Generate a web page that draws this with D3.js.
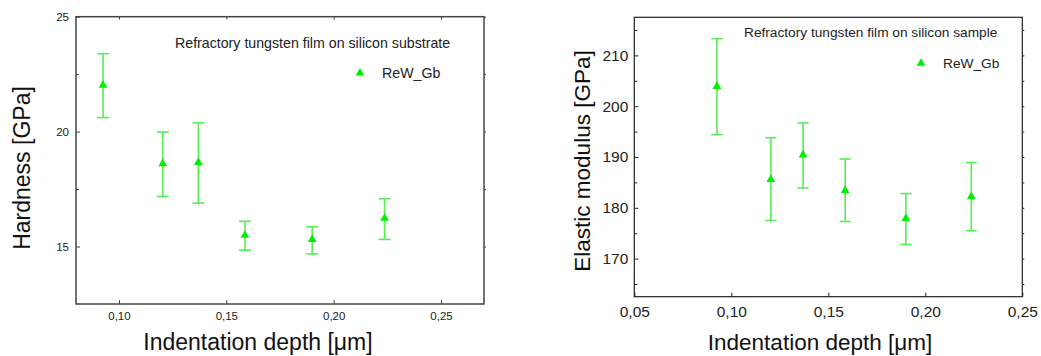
<!DOCTYPE html>
<html>
<head>
<meta charset="utf-8">
<script src="https://cdn.jsdelivr.net/npm/d3@7"></script>
<style>
  body { margin: 0; background: #fff; }
  svg { font-family: "Liberation Sans", Arial, Helvetica, sans-serif; }
  .axis path { display: none; }
</style>
</head>
<body>
<div id="chart"></div>
<script>
// indentation depth (um), shared by both panels
const depth = [0.0926, 0.1204, 0.1370, 0.1587, 0.1900, 0.2237];

// hardness panel
const hardness = [22.02, 18.61, 18.66, 15.49, 15.31, 16.23];
const hardnessHi = [23.39, 19.98, 20.38, 16.10, 15.86, 17.08];
const hardnessLo = [20.61, 17.18, 16.89, 14.84, 14.68, 15.31];
const hardnessTicks = [15, 20, 25];
const hardnessMinor = [17.5, 22.5];
const hardnessXTicks = [0.10, 0.15, 0.20, 0.25];

// elastic modulus panel
const modulus = [203.9, 185.6, 190.4, 183.4, 177.9, 182.2];
const modulusHi = [213.3, 193.8, 196.7, 189.6, 182.8, 188.9];
const modulusLo = [194.4, 177.5, 183.9, 177.3, 172.8, 175.5];
const modulusTicks = [170, 180, 190, 200, 210];
const modulusMinor = [165, 175, 185, 195, 205, 215];
const modulusXTicks = [0.05, 0.10, 0.15, 0.20, 0.25];

const seriesName = "ReW_Gb";

const svg = d3.select("#chart").append("svg")
  .attr("width", 1041)
  .attr("height", 356);

const commaFmt = d => d3.format(".2f")(d).replace(".", ",");

function drawPanel(cfg) {
  const x = d3.scaleLinear().domain(cfg.xDomain).range([cfg.left, cfg.right]);
  const y = d3.scaleLinear().domain(cfg.yDomain).range([cfg.bottom, cfg.top]);

  const g = svg.append("g");

  // x axis (ticks point inward)
  g.append("g")
    .attr("class", "axis")
    .attr("transform", `translate(0,${cfg.bottom})`)
    .call(d3.axisBottom(x).tickValues(cfg.xTicks).tickFormat(commaFmt)
      .tickSizeInner(-4).tickSizeOuter(0).tickPadding(cfg.xPad))
    .call(a => a.selectAll("line").attr("stroke", cfg.frameColor))
    .call(a => a.selectAll("text").attr("font-size", cfg.tickFont).attr("fill", "#222"));

  // top ticks
  g.append("g")
    .attr("class", "axis")
    .attr("transform", `translate(0,${cfg.top})`)
    .call(d3.axisTop(x).tickValues(cfg.topTicks ? cfg.xTicks : []).tickFormat("")
      .tickSizeInner(-3).tickSizeOuter(0))
    .call(a => a.selectAll("line").attr("stroke", cfg.frameColor));

  // y axis, major + minor
  g.append("g")
    .attr("class", "axis")
    .attr("transform", `translate(${cfg.left},0)`)
    .call(d3.axisLeft(y).tickValues(cfg.yTicks).tickFormat(d3.format("d"))
      .tickSizeInner(-4).tickSizeOuter(0).tickPadding(cfg.yPad))
    .call(a => a.selectAll("line").attr("stroke", cfg.frameColor))
    .call(a => a.selectAll("text").attr("font-size", cfg.tickFont).attr("fill", "#222"));

  g.append("g")
    .attr("class", "axis")
    .attr("transform", `translate(${cfg.left},0)`)
    .call(d3.axisLeft(y).tickValues(cfg.yMinor).tickFormat("")
      .tickSizeInner(-3).tickSizeOuter(0))
    .call(a => a.selectAll("line").attr("stroke", cfg.frameColor));

  // right side ticks
  g.append("g")
    .attr("class", "axis")
    .attr("transform", `translate(${cfg.right},0)`)
    .call(d3.axisRight(y).tickValues(cfg.yTicks.concat(cfg.yMinor)).tickFormat("")
      .tickSizeInner(2).tickSizeOuter(0))
    .call(a => a.selectAll("line").attr("stroke", cfg.frameColor));

  // frame
  g.append("rect")
    .attr("x", cfg.left)
    .attr("y", cfg.top)
    .attr("width", cfg.right - cfg.left)
    .attr("height", cfg.bottom - cfg.top)
    .attr("fill", "none")
    .attr("stroke", cfg.frameColor)
    .attr("stroke-width", cfg.frameWidth);

  const pts = depth.map((d, i) => ({ x: d, v: cfg.values[i], hi: cfg.hi[i], lo: cfg.lo[i] }));

  // error bars
  const bars = g.append("g")
    .attr("stroke", "#55ee55")
    .attr("stroke-width", 1.6);

  bars.selectAll(".stem")
    .data(pts)
    .join("line")
    .attr("x1", d => x(d.x)).attr("x2", d => x(d.x))
    .attr("y1", d => y(d.hi)).attr("y2", d => y(d.lo));

  bars.selectAll(".capHi")
    .data(pts)
    .join("line")
    .attr("x1", d => x(d.x) - cfg.cap).attr("x2", d => x(d.x) + cfg.cap)
    .attr("y1", d => y(d.hi)).attr("y2", d => y(d.hi));

  bars.selectAll(".capLo")
    .data(pts)
    .join("line")
    .attr("x1", d => x(d.x) - cfg.cap).attr("x2", d => x(d.x) + cfg.cap)
    .attr("y1", d => y(d.lo)).attr("y2", d => y(d.lo));

  // markers
  const tri = d3.symbol(d3.symbolTriangle).size(34);
  g.selectAll(".pt")
    .data(pts)
    .join("path")
    .attr("d", tri)
    .attr("fill", "#00ee00")
    .attr("transform", d => `translate(${x(d.x)},${y(d.v)})`);

  // annotation + legend
  g.append("text")
    .attr("x", cfg.noteX).attr("y", cfg.noteY)
    .attr("font-size", cfg.noteFont)
    .attr("fill", "#222")
    .text(cfg.note);

  g.append("path")
    .attr("d", tri)
    .attr("fill", "#00ee00")
    .attr("transform", `translate(${cfg.legX},${cfg.legY})`);

  g.append("text")
    .attr("x", cfg.legX + 22).attr("y", cfg.legY)
    .attr("dy", "0.36em")
    .attr("font-size", cfg.noteFont)
    .attr("fill", "#222")
    .text(seriesName);

  // axis titles
  g.append("text")
    .attr("x", cfg.xTitleX).attr("y", cfg.xTitleY)
    .attr("text-anchor", "middle")
    .attr("font-size", cfg.titleFont)
    .attr("fill", "#111")
    .text("Indentation depth [\u03bcm]");

  g.append("text")
    .attr("transform", `translate(${cfg.yTitleX},${cfg.yTitleY}) rotate(-90)`)
    .attr("text-anchor", "middle")
    .attr("dy", "0.36em")
    .attr("font-size", cfg.titleFont)
    .attr("fill", "#111")
    .text(cfg.yTitle);
}

drawPanel({
  left: 76, right: 484, top: 16.7, bottom: 304,
  xDomain: [0.08, 0.27], yDomain: [12.5, 25],
  xTicks: hardnessXTicks, yTicks: hardnessTicks, yMinor: hardnessMinor,
  topTicks: true,
  values: hardness, hi: hardnessHi, lo: hardnessLo,
  tickFont: "11.5px", xPad: 8, yPad: 7,
  frameColor: "#444", frameWidth: 1.5, cap: 6,
  note: "Refractory tungsten film on silicon substrate",
  noteX: 175, noteY: 48, noteFont: "14.2px",
  legX: 360, legY: 73,
  titleFont: "23px", xTitleX: 258, xTitleY: 350,
  yTitle: "Hardness [GPa]", yTitleX: 22, yTitleY: 168
});

drawPanel({
  left: 634.3, right: 1022.3, top: 17.3, bottom: 296.7,
  xDomain: [0.05, 0.25], yDomain: [162.5, 217.5],
  xTicks: modulusXTicks, yTicks: modulusTicks, yMinor: modulusMinor,
  topTicks: false,
  values: modulus, hi: modulusHi, lo: modulusLo,
  tickFont: "15.5px", xPad: 9, yPad: 6,
  frameColor: "#222", frameWidth: 1.2, cap: 5.5,
  note: "Refractory tungsten film on silicon sample",
  noteX: 744, noteY: 36.5, noteFont: "13.7px",
  legX: 921, legY: 63.3,
  titleFont: "22.5px", xTitleX: 820, xTitleY: 350,
  yTitle: "Elastic modulus [GPa]", yTitleX: 582, yTitleY: 161
});
</script>
</body>
</html>
